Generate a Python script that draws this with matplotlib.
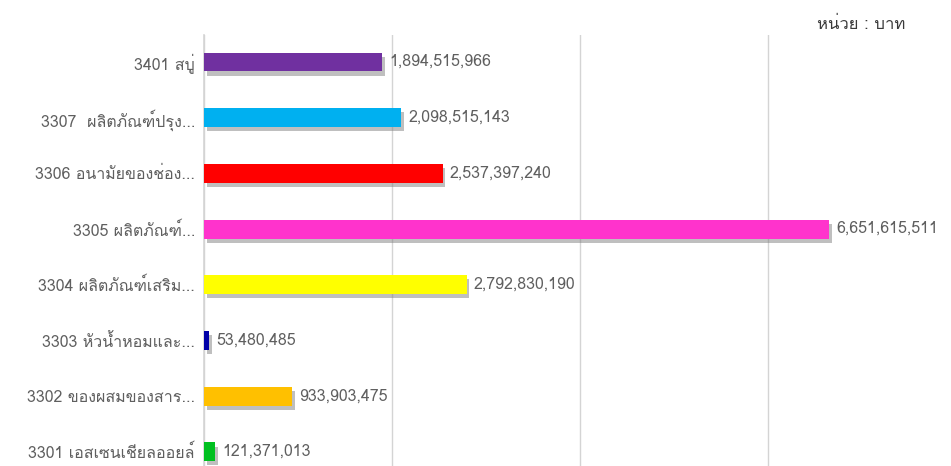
import matplotlib
matplotlib.use('Agg')
import matplotlib.pyplot as plt
import matplotlib.patheffects as pe
from matplotlib import font_manager, ft2font


categories = ['3401 สบู่',
              '3307  ผลิตภัณฑ์ปรุง...',
              '3306 อนามัยของช่อง...',
              '3305 ผลิตภัณฑ์...',
              '3304 ผลิตภัณฑ์เสริม...',
              '3303 หัวน้ำหอมและ...',
              '3302 ของผสมของสาร...',
              '3301 เอสเซนเชียลออยล์']
values = [1894515966, 2098515143, 2537397240, 6651615511,
          2792830190, 53480485, 933903475, 121371013]
bar_colors = ['#7030a0', '#00b0f0', '#ff0000', '#ff33cc',
              '#ffff00', '#0000a8', '#ffc000', '#00c020']
unit_label = 'หน่วย : บาท'


# pick any installed font that has Thai glyphs
def thai_family():
    preferred = ['Tahoma', 'Loma', 'Garuda', 'Noto Sans Thai', 'Noto Sans Thai UI',
                 'Sarabun', 'Norasi', 'Kinnari', 'Waree', 'Umpush']
    found = []
    for f in font_manager.fontManager.ttflist:
        try:
            if 0x0E01 in ft2font.FT2Font(f.fname).get_charmap():
                found.append(f.name)
        except Exception:
            pass
    for name in preferred:
        if name in found:
            return name
    return found[0] if found else None


thai = thai_family()
families = [thai, 'DejaVu Sans'] if thai else ['DejaVu Sans']
plt.rcParams['font.family'] = families

W, H = 951, 466
fig = plt.figure(figsize=(W / 100, H / 100), dpi=100)
fig.patch.set_facecolor('white')
ax = fig.add_axes([204 / W, 0, (W - 204) / W, 1 - 35 / H])

y = list(range(len(categories)))
shadow = [pe.SimplePatchShadow(offset=(2, -3), shadow_rgbFace='#808080', alpha=0.5),
          pe.Normal()]
bars = ax.barh(y, values, height=0.34, color=bar_colors, zorder=3)
for b in bars:
    b.set_path_effects(shadow)

for yi, v in zip(y, values):
    ax.annotate(f'{v:,}', (v, yi), xytext=(5, 0), textcoords='offset points',
                va='center', ha='left', fontsize=11.5, color='#5f5f5f', zorder=4)

ax.set_xlim(0, (W - 204) / 94.0 * 1e9)
ax.set_ylim(7.255, -0.485)
ax.set_xticks([0, 2e9, 4e9, 6e9])
ax.grid(axis='x', color='#d4d4d4', linewidth=1)
ax.axvline(0, color='#d4d4d4', linewidth=1.2, clip_on=False, zorder=1)
ax.set_axisbelow(True)
ax.tick_params(axis='x', bottom=False, labelbottom=False)
ax.tick_params(axis='y', left=False, pad=3)
ax.set_yticks(y)
ax.set_yticklabels(categories, fontsize=11.5, color='#5f5f5f')
for s in ax.spines.values():
    s.set_visible(False)

fig.text(905 / W, 1 - 25 / H, unit_label, ha='right', va='center',
         fontsize=12, color='#3a3a3a')

fig.savefig('out.png', dpi=100)
